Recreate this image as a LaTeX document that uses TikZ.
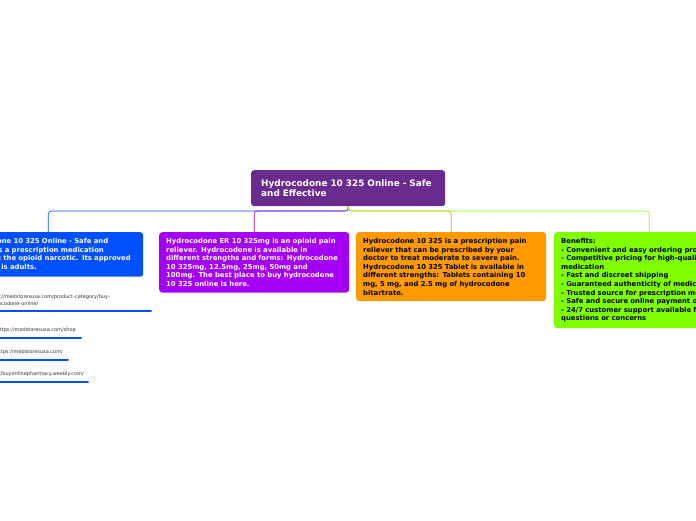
\documentclass[tikz,border=0pt]{standalone}
\usepackage{fontspec}
\setmainfont{DejaVu Sans}
\definecolor{rootc}{HTML}{6A2B8E}
\definecolor{bluec}{HTML}{0050FF}
\definecolor{purpc}{HTML}{A300F5}
\definecolor{orangec}{HTML}{FF9A00}
\definecolor{greenc}{HTML}{80FF00}
\hyphenpenalty=10000
\tikzset{
  topic/.style={rounded corners=3pt, inner xsep=7pt, inner ysep=6pt, align=left,
    text width=176pt, font=\bfseries\fontsize{6.85}{8.6}\selectfont, anchor=north west},
  link/.style={font=\fontsize{5}{7.2}\selectfont, text=black!80, inner sep=0pt, align=left},
  branch/.style={rounded corners=3pt, line width=0.6pt}
}
\begin{document}
\begin{tikzpicture}[x=1pt,y=-1pt]
\useasboundingbox (0,0) rectangle (696,520);
\clip (0,0) rectangle (696,520);
\node[topic, fill=rootc, text=white, text width=174pt, inner xsep=10pt, inner ysep=7pt,
  minimum height=36pt, font=\bfseries\fontsize{8.9}{10.5}\selectfont] (root) at (251,170)
  {Hydrocodone 10 325 Online - Safe\\and Effective};
\node[topic, fill=bluec, text=white, minimum height=42pt] (safe) at (-47,232)
  {Hydrocodone 10 325 Online - Safe and\\effective is a prescription medication\\containing the opioid narcotic. Its approved\\age range is adults.};
\node[topic, fill=purpc, text=white, minimum height=59pt] (er) at (159,232)
  {Hydrocodone ER 10 325mg is an opioid pain\\reliever. Hydrocodone is available in\\different strengths and forms: Hydrocodone\\10 325mg, 12.5mg, 25mg, 50mg and\\100mg. The best place to buy hydrocodone\\10 325 online is here.};
\node[topic, fill=orangec, text=black, minimum height=68pt] (rx) at (356,232)
  {Hydrocodone 10 325 is a prescription pain\\reliever that can be prescribed by your\\doctor to treat moderate to severe pain.\\Hydrocodone 10 325 Tablet is available in\\different strengths: Tablets containing 10\\mg, 5 mg, and 2.5 mg of hydrocodone\\bitartrate.};
\node[topic, fill=greenc, text=black, minimum height=93pt] (ben) at (554,232)
  {Benefits:\\
  - Convenient and easy ordering process\\
  - Competitive pricing for high-quality\\medication\\
  - Fast and discreet shipping\\
  - Guaranteed authenticity of medication\\
  - Trusted source for prescription medicine\\
  - Safe and secure online payment options\\
  - 24/7 customer support available for\\questions or concerns};
% branches
\draw[branch, bluec] (root.south) |- (170,211) -| (safe.north);
\draw[branch, purpc] (root.south) |- (300,211) -| (er.north);
\draw[branch, orangec] (root.south) |- (400,211) -| (rx.north);
\draw[branch, greenc] (root.south) |- (600,211) -| (ben.north);
% links
\node[link, anchor=north east, align=left] (l1) at (110,294) {https://medstoresusa.com/product-category/buy-\\hydrocodone-online/};
\node[link, anchor=north east] (l2) at (76,327) {https://medstoresusa.com/shop};
\node[link, anchor=north east] (l3) at (63,349) {https://medstoresusa.com/};
\node[link, anchor=north east] (l4) at (84,371) {https://buyonlinepharmacy.weebly.com/};
\coordinate (e1) at (151,311); \coordinate (e2) at (81,338);
\coordinate (e3) at (68,360); \coordinate (e4) at (88,382);
\foreach \e in {1,2,3,4}
  \draw[bluec, line width=2pt, line cap=round] (-50,0 |- e\e) -- (e\e);
\end{tikzpicture}
\end{document}
